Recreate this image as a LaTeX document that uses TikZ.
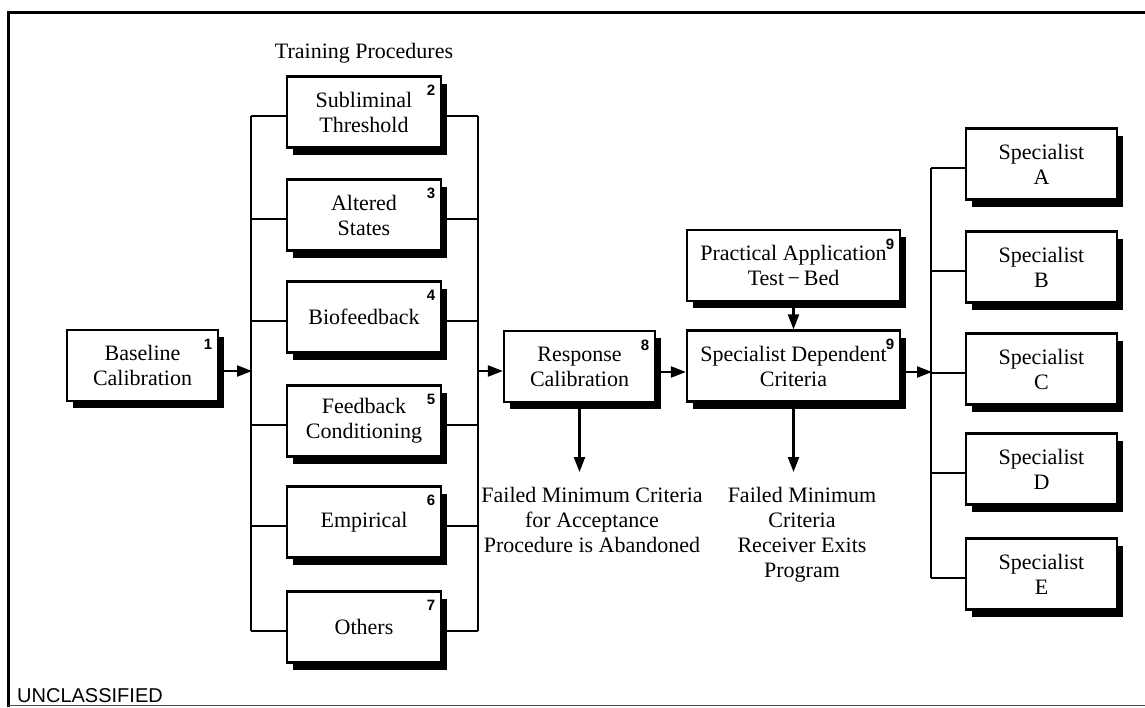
\documentclass[tikz,border=0pt]{standalone}
\usepackage{fontspec}
\setmainfont{Liberation Serif}
\setsansfont{Liberation Sans}
\usetikzlibrary{arrows.meta,shadows}
\begin{document}
\begin{tikzpicture}[x=1pt,y=-1pt,
  box/.style={draw, line width=2.2pt, fill=white, minimum height=71pt, inner sep=0pt, align=center,
     font=\fontsize{22}{25}\selectfont,
     drop shadow={shadow xshift=6pt, shadow yshift=-7pt, fill=black, opacity=1}},
  tbox/.style={box, minimum width=154pt},
  sbox/.style={box, minimum width=151pt},
  wbox/.style={box, minimum width=213pt},
  num/.style={font=\sffamily\bfseries\fontsize{15}{15}\selectfont, inner sep=0pt},
  conn/.style={line width=2.2pt},
  arr/.style={conn, -{Triangle[length=15pt,width=11pt]}},
  lbl/.style={align=center, font=\fontsize{22}{25}\selectfont, inner sep=0pt, anchor=north},
]
\useasboundingbox (0,0) rectangle (1145,707);
% frame
\draw[line width=3pt] (8,707) -- (8,12) -- (1145,12);
\draw[line width=1pt, black!70] (8,705.5) -- (1145,705.5);

% nodes
\node[sbox] (b1) at (142.5,365.5) {Baseline\\Calibration};
\node[font=\fontsize{22}{25}\selectfont] (title) at (364,53) {Training Procedures};
\node[tbox] (t2) at (364,112) {Subliminal\\Threshold};
\node[tbox] (t3) at (364,215) {Altered\\States};
\node[tbox] (t4) at (364,317) {Biofeedback};
\node[tbox] (t5) at (364,421) {Feedback\\Conditioning};
\node[tbox] (t6) at (364,522) {Empirical};
\node[tbox] (t7) at (364,627) {Others};
\node[sbox] (r8) at (579.5,366.5) {Response\\Calibration};
\node[wbox] (pa) at (793.5,265.5) {Practical Application\\Test\,\textminus\,Bed};
\node[wbox] (sd) at (793.5,366) {Specialist Dependent\\Criteria};
\node[sbox] (sA) at (1041.5,164) {Specialist\\A};
\node[sbox] (sB) at (1041.5,267) {Specialist\\B};
\node[sbox] (sC) at (1041.5,369) {Specialist\\C};
\node[sbox] (sD) at (1041.5,469) {Specialist\\D};
\node[sbox] (sE) at (1041.5,574) {Specialist\\E};

% numbers
\node[num] (n1) at ([xshift=-11pt,yshift=-15pt]b1.north east) {1};
\node[num] (n2) at ([xshift=-11pt,yshift=-15pt]t2.north east) {2};
\node[num] (n3) at ([xshift=-11pt,yshift=-15pt]t3.north east) {3};
\node[num] (n4) at ([xshift=-11pt,yshift=-15pt]t4.north east) {4};
\node[num] (n5) at ([xshift=-11pt,yshift=-15pt]t5.north east) {5};
\node[num] (n6) at ([xshift=-11pt,yshift=-15pt]t6.north east) {6};
\node[num] (n7) at ([xshift=-11pt,yshift=-15pt]t7.north east) {7};
\node[num] (n8) at ([xshift=-11pt,yshift=-15pt]r8.north east) {8};
\node[num] (n9a) at ([xshift=-11pt,yshift=-15pt]pa.north east) {9};
\node[num] (n9b) at ([xshift=-11pt,yshift=-15pt]sd.north east) {9};

% failure labels
\node[lbl] (fail1) at (592,487) {Failed Minimum Criteria\\for Acceptance\\Procedure is Abandoned};
\node[lbl] (fail2) at (802,487) {Failed Minimum\\Criteria\\Receiver Exits\\Program};

\node[anchor=base west, font=\sffamily\fontsize{20}{20}\selectfont, inner sep=0pt] (uncl) at (17,702) {UNCLASSIFIED};

% buses
\coordinate (lin) at (252,371);
\coordinate (rout) at (477,371);
\coordinate (sin) at (932,372);
\coordinate (f1) at (579.5,472);
\coordinate (f2) at (793.5,472);

\foreach \n in {t2,t3,t4,t5,t6,t7}{
  \draw[conn] ([yshift=-4pt]\n.west) -- ++(-35,0);
  \draw[conn] ([yshift=-4pt]\n.east) -- ++(36,0);
}
\draw[conn] ([yshift=-4pt,xshift=-35pt]t2.west) -- ([yshift=-4pt,xshift=-35pt]t7.west);
\draw[conn] ([yshift=-4pt,xshift=36pt]t2.east) -- ([yshift=-4pt,xshift=36pt]t7.east);

\foreach \n in {sA,sB,sC,sD,sE}{
  \draw[conn] ([yshift=-4pt]\n.west) -- ++(-34,0);
}
\draw[conn] ([yshift=-4pt,xshift=-34pt]sA.west) -- ([yshift=-4pt,xshift=-34pt]sE.west);

% arrows
\draw[arr] (b1.east |- lin) -- (lin);
\draw[arr] (rout) -- (r8.west |- rout);
\draw[arr] (r8.east |- sin) -- (sd.west |- sin);
\draw[arr] (sd.east |- sin) -- (sin);
\draw[arr] (pa.south) -- (sd.north);
\draw[arr] (r8.south) -- (f1);
\draw[arr] (sd.south) -- (f2);
\end{tikzpicture}
\end{document}
